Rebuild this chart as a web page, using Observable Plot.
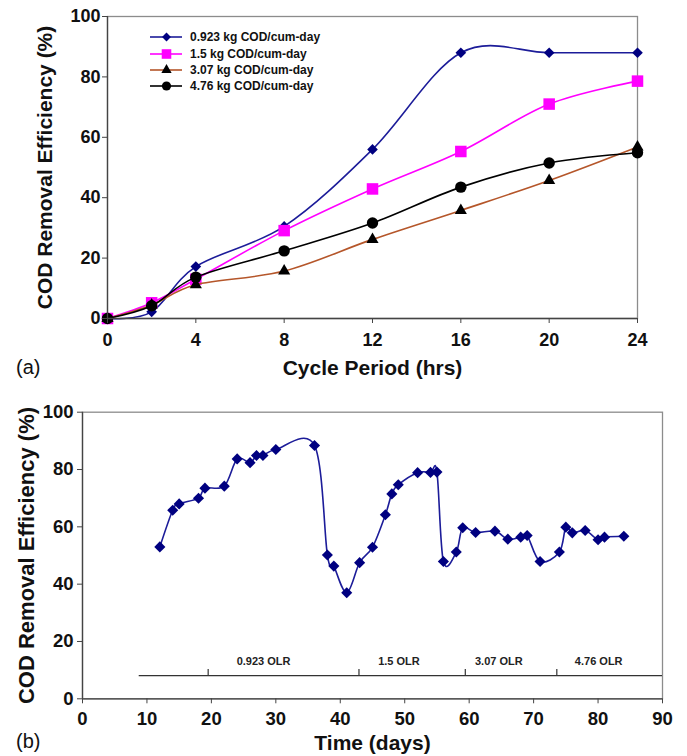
<!DOCTYPE html>
<html>
<head>
<meta charset="utf-8">
<script src="https://cdn.jsdelivr.net/npm/d3@7"></script>
<script src="https://cdn.jsdelivr.net/npm/@observablehq/plot@0.6"></script>
<style>
  body { margin: 0; background: #fff; font-family: "Liberation Sans", Arial, sans-serif; }
  #wrap { position: relative; width: 687px; height: 756px; overflow: hidden; background: #fff; }
  .panel { position: absolute; left: 0; }
  .tag { position: absolute; font-size: 20px; color: #111; line-height: 1; }
  #legend { position: absolute; left: 150px; top: 29px; font-size: 12px; font-weight: bold; color: #111; }
  #legend .row { height: 16.4px; display: flex; align-items: center; white-space: nowrap; }
  #legend svg { margin-right: 6px; overflow: visible; }
</style>
</head>
<body>
<div id="wrap">
  <div id="panelA" class="panel" style="top:0"></div>
  <div id="legend"></div>
  <div class="tag" style="left:16px; top:357px;">(a)</div>
  <div id="panelB" class="panel" style="top:390px"></div>
  <div class="tag" style="left:16px; top:731px;">(b)</div>
</div>
<script>
// ---------- Panel (a) data ----------
const hours = [0, 2, 4, 8, 12, 16, 20, 24];
const olr0923 = [0, 2.2, 17.2, 30.5, 56.0, 88.0, 88.0, 88.0];
const olr15   = [0, 5.2, 13.0, 29.1, 42.9, 55.3, 71.0, 78.6];
const olr307  = [0, 4.5, 11.2, 15.7, 26.2, 35.8, 45.7, 56.8];
const olr476  = [0, 4.2, 13.7, 22.4, 31.6, 43.5, 51.5, 54.9];
const seriesNames = ["0.923 kg COD/cum-day", "1.5 kg COD/cum-day", "3.07 kg COD/cum-day", "4.76 kg COD/cum-day"];
const xTicksA = [0, 4, 8, 12, 16, 20, 24];
const yTicks = [0, 20, 40, 60, 80, 100];

// ---------- Panel (b) data ----------
const days = [12, 14, 15, 18, 19, 22, 24, 26, 27, 28, 30, 36, 38, 39, 41, 43, 45, 47, 48, 49, 52, 54, 55, 56, 58, 59, 61, 64, 66, 68, 69, 71, 74, 75, 76, 78, 80, 81, 84];
const removal = [53.0, 65.8, 68.0, 70.0, 73.5, 74.2, 83.7, 82.4, 84.9, 84.9, 87.0, 88.4, 50.2, 46.3, 37.0, 47.5, 52.9, 64.2, 71.5, 74.7, 78.9, 79.0, 79.1, 47.9, 51.2, 59.7, 58.0, 58.5, 55.7, 56.4, 57.0, 47.9, 51.2, 59.9, 57.9, 58.7, 55.5, 56.4, 56.7];
const xTicksB = [0, 10, 20, 30, 40, 50, 60, 70, 80, 90];
const olrLabels = ["0.923 OLR", "1.5 OLR", "3.07 OLR", "4.76 OLR"];
const olrLabelDay = [28.1, 49.1, 64.6, 80.1];
const olrBoundaries = [19.5, 42.9, 59.4, 73.6];
const olrLineStart = 8.8;
const olrLineLevel = 8.1;
const olrTickTop = 10.2;
const olrLabelLevel = 13.0;

// ---------- styles ----------
const seriesStyle = [
  { line: "#1c1c99", fill: "#000080", symbol: "diamond2", r: 4.8, lr: 4.0 },
  { line: "#ff00ff", fill: "#ff00ff", symbol: "square", r: 6.5, lr: 5.4 },
  { line: "#b5562a", fill: "#000000", symbol: "triangle", r: 4.5, lr: 3.8 },
  { line: "#000000", fill: "#000000", symbol: "circle", r: 5.7, lr: 4.6 }
];
const seriesValues = [olr0923, olr15, olr307, olr476];
const FONT = '"Liberation Sans", Arial, sans-serif';

// ---------- Panel (a) ----------
const marksA = [Plot.frame({ stroke: "#8c8c8c", strokeWidth: 1.3 })];
seriesValues.forEach((vals, k) => {
  const rows = hours.map((h, i) => ({ hour: h, value: vals[i] }));
  const st = seriesStyle[k];
  marksA.push(Plot.line(rows, { x: "hour", y: "value", stroke: st.line, strokeWidth: 1.6, curve: "cardinal" }));
  marksA.push(Plot.dot(rows, { x: "hour", y: "value", symbol: () => st.symbol, fill: st.fill, stroke: "none", r: st.r }));
});
marksA.push(
  Plot.ruleX([0], { stroke: "#444", strokeWidth: 1.3 }),
  Plot.ruleY([0], { stroke: "#444", strokeWidth: 1.3 }),
  Plot.axisX({ ticks: xTicksA, tickSize: 5, tickPadding: 10, label: null, stroke: "#444", fill: "#111" }),
  Plot.axisY({ ticks: yTicks, tickSize: 5, tickPadding: 2, label: null, stroke: "#444", fill: "#111" }),
  Plot.text(["COD Removal Efficiency (%)"], { text: d => d, frameAnchor: "left", textAnchor: "middle", lineAnchor: "middle", rotate: -90, dx: -62, fontSize: 21, fontWeight: "bold", fill: "#111" }),
  Plot.text(["Cycle Period (hrs)"], { text: d => d, frameAnchor: "bottom", textAnchor: "middle", lineAnchor: "middle", dy: 50, fontSize: 21, fontWeight: "bold", fill: "#111" })
);
const plotA = Plot.plot({
  width: 687, height: 390,
  marginLeft: 107, marginRight: 50, marginTop: 16, marginBottom: 72,
  x: { domain: [0, 24] },
  y: { domain: [0, 100] },
  style: { fontFamily: FONT, fontSize: "18px", fontWeight: "bold", background: "#fff", overflow: "visible" },
  marks: marksA
});
document.getElementById("panelA").append(plotA);

// ---------- Legend (HTML) ----------
const legend = d3.select("#legend");
const symMap = { diamond2: d3.symbolDiamond2, square: d3.symbolSquare, triangle: d3.symbolTriangle, circle: d3.symbolCircle };
seriesNames.forEach((name, k) => {
  const st = seriesStyle[k];
  const row = legend.append("div").attr("class", "row");
  const svg = row.append("svg").attr("width", 34).attr("height", 14);
  svg.append("line").attr("x1", 0).attr("x2", 32).attr("y1", 7).attr("y2", 7).attr("stroke", st.line).attr("stroke-width", 1.6);
  svg.append("path").attr("transform", "translate(16.5,7)")
    .attr("d", d3.symbol(symMap[st.symbol], Math.PI * st.lr * st.lr)()).attr("fill", st.fill);
  row.append("span").text(name);
});

// ---------- Panel (b) ----------
const rowsB = days.map((d, i) => ({ day: d, value: removal[i] }));
const plotB = Plot.plot({
  width: 687, height: 366,
  marginLeft: 82, marginRight: 25, marginTop: 21.7, marginBottom: 57.7,
  x: { domain: [0, 90] },
  y: { domain: [0, 100] },
  style: { fontFamily: FONT, fontSize: "18.5px", fontWeight: "bold", background: "#fff", overflow: "visible" },
  marks: [
    Plot.frame({ stroke: "#8c8c8c", strokeWidth: 1.3 }),
    Plot.ruleY([olrLineLevel], { x1: olrLineStart, x2: 90, stroke: "#333", strokeWidth: 1.3 }),
    Plot.ruleX(olrBoundaries, { y1: olrLineLevel, y2: olrTickTop, stroke: "#333", strokeWidth: 1.2 }),
    Plot.text(olrLabels, { text: d => d, x: (d, i) => olrLabelDay[i], y: olrLabelLevel, fontSize: 11, fontWeight: "bold", fill: "#222" }),
    Plot.line(rowsB, { x: "day", y: "value", stroke: "#1c1c99", strokeWidth: 1.6, curve: "cardinal" }),
    Plot.dot(rowsB, { x: "day", y: "value", symbol: "diamond2", fill: "#000080", stroke: "none", r: 5 }),
    Plot.ruleX([0], { stroke: "#444", strokeWidth: 1.3 }),
    Plot.ruleY([0], { stroke: "#444", strokeWidth: 1.3 }),
    Plot.axisX({ ticks: xTicksB, tickSize: 5, tickPadding: 8, label: null, stroke: "#444", fill: "#111" }),
    Plot.axisY({ ticks: yTicks, tickSize: 5, tickPadding: 4, label: null, stroke: "#444", fill: "#111" }),
    Plot.text(["COD Removal Efficiency (%)"], { text: d => d, frameAnchor: "left", textAnchor: "middle", lineAnchor: "middle", rotate: -90, dx: -56, fontSize: 22, fontWeight: "bold", fill: "#111" }),
    Plot.text(["Time (days)"], { text: d => d, frameAnchor: "bottom", textAnchor: "middle", lineAnchor: "middle", dy: 44, fontSize: 21, fontWeight: "bold", fill: "#111" })
  ]
});
document.getElementById("panelB").append(plotB);
</script>
</body>
</html>
